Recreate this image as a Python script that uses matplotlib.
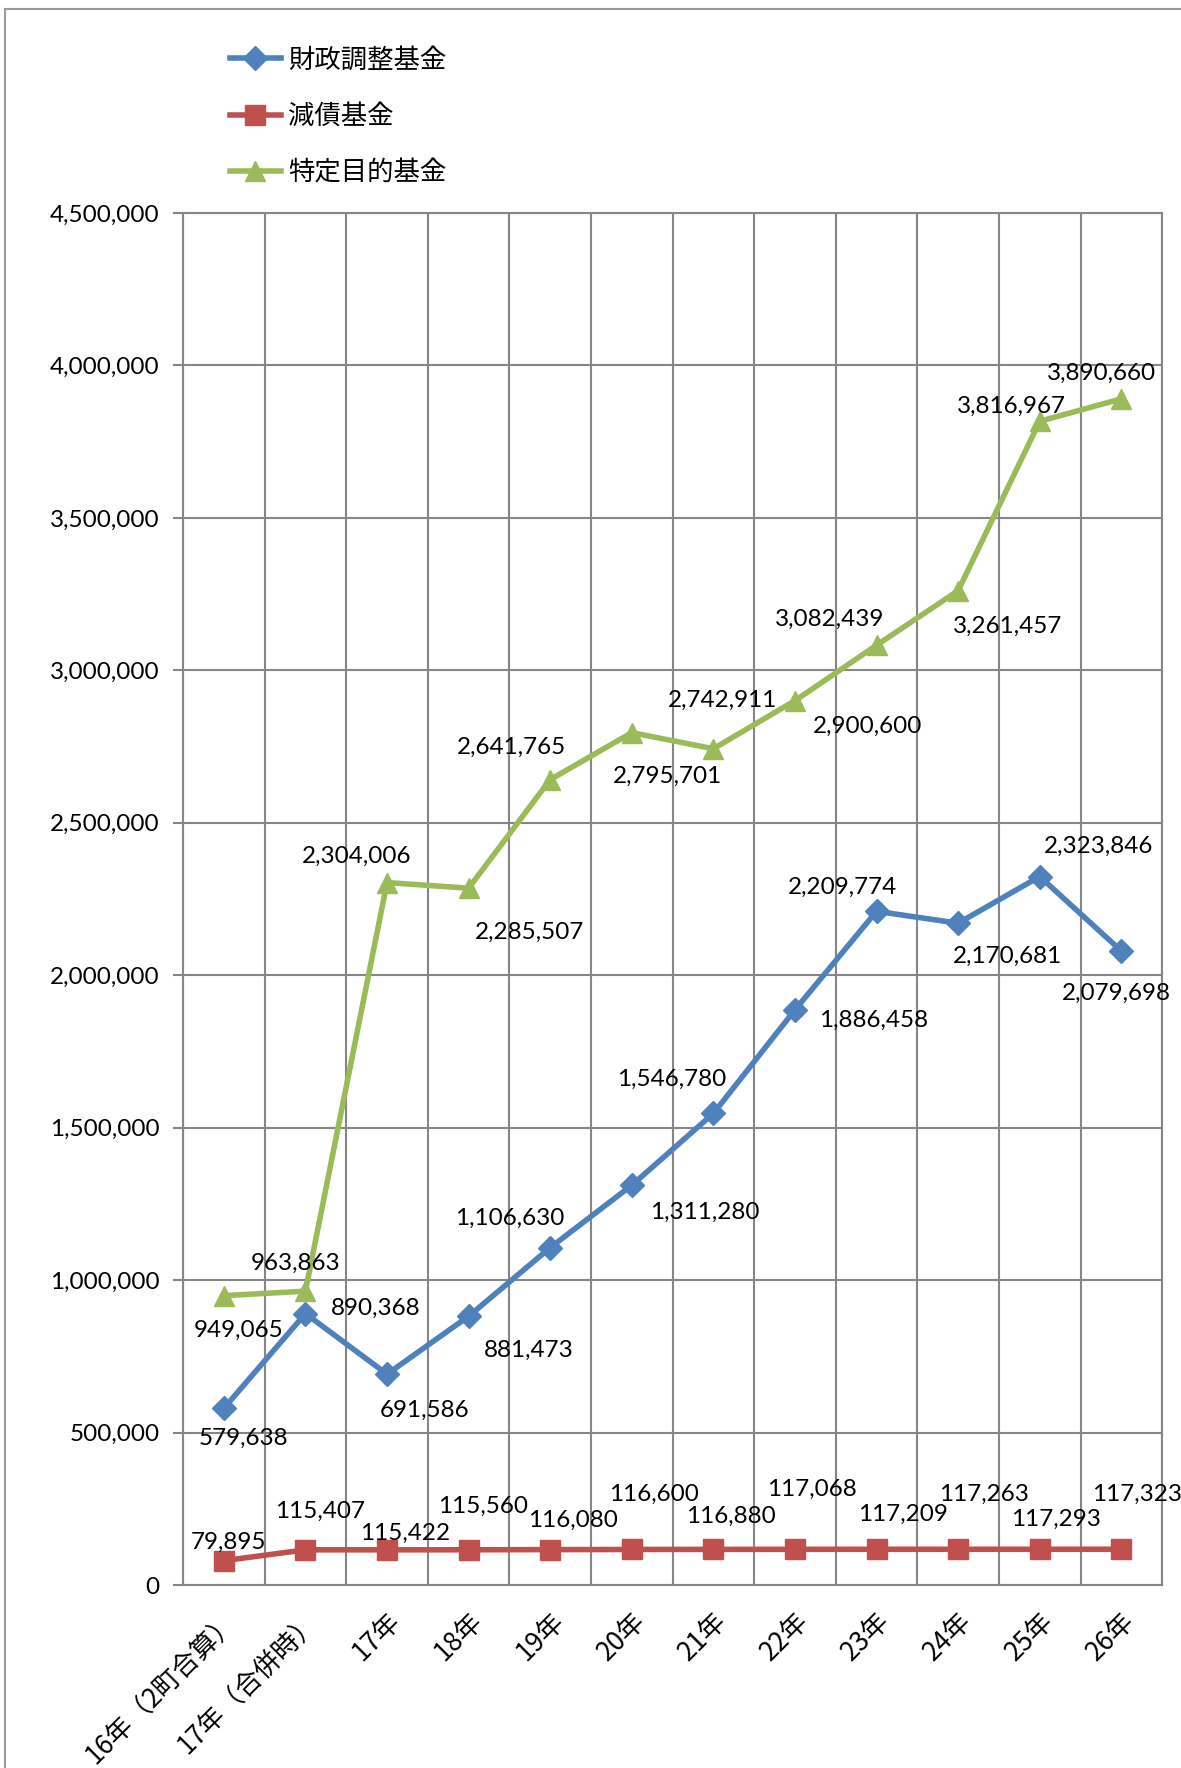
import numpy as np
import matplotlib.pyplot as plt
from matplotlib.lines import Line2D
from matplotlib.ticker import FuncFormatter, MultipleLocator

plt.rcParams['font.family'] = ['Noto Sans CJK JP', 'DejaVu Sans']

categories = ['16年（2町合算）', '17年（合併時）', '17年', '18年', '19年', '20年',
              '21年', '22年', '23年', '24年', '25年', '26年']
zaisei = [579638, 890368, 691586, 881473, 1106630, 1311280, 1546780,
          1886458, 2209774, 2170681, 2323846, 2079698]
gensai = [79895, 115407, 115422, 115560, 116080, 116600, 116880,
          117068, 117209, 117263, 117293, 117323]
tokutei = [949065, 963863, 2304006, 2285507, 2641765, 2795701, 2742911,
           2900600, 3082439, 3261457, 3816967, 3890660]

# label offsets (pixels, x right / y up)
off_zaisei = [(20, -30), (70, 5), (38, -36), (60, -34), (-40, 29), (73, -27),
              (-42, 34), (79, -10), (-34, 24), (49, -33), (59, 30), (-5, -42)]
off_gensai = [(5, 18), (15, 38), (18, 16), (14, 43), (23, 29), (22, 55),
              (18, 33), (17, 60), (26, 35), (26, 55), (16, 30), (16, 55)]
off_tokutei = [(15, -35), (-10, 28), (-30, 26), (61, -44), (-39, 32), (36, -44),
               (9, 48), (73, -26), (-47, 26), (49, -36), (-28, 15), (-20, 25)]

blue = '#4F81BD'
red = '#C0504D'
green = '#9BBB59'
gridc = '#868686'

fig = plt.figure(figsize=(11.81, 17.68), dpi=100)
ax = fig.add_axes([0.155, 0.1035, 0.829, 0.776])

x = np.arange(len(categories))
ax.plot(x, zaisei, color=blue, lw=4, marker='D', ms=12, label='財政調整基金', zorder=3)
ax.plot(x, gensai, color=red, lw=4, marker='s', ms=14, label='減債基金', zorder=3)
ax.plot(x, tokutei, color=green, lw=4, marker='^', ms=15, label='特定目的基金', zorder=3)

num_font = ['Lato', 'DejaVu Sans']
for vals, offs in [(zaisei, off_zaisei), (gensai, off_gensai), (tokutei, off_tokutei)]:
    for xi, v, (dx, dy) in zip(x, vals, offs):
        ax.annotate(f'{v:,}', (xi, v), xytext=(dx, dy), textcoords='offset pixels',
                    ha='center', va='center', fontsize=17.5, family=num_font,
                    color='black', zorder=4)

ax.set_xlim(-0.5, len(categories) - 0.5)
ax.set_ylim(0, 4500000)
ax.yaxis.set_major_locator(MultipleLocator(500000))
ax.yaxis.set_major_formatter(FuncFormatter(lambda v, p: f'{int(v):,}'))
for lab in ax.get_yticklabels():
    lab.set_family(num_font)
ax.tick_params(axis='y', labelsize=17.5, length=7, width=1.5, color=gridc, pad=10)

ax.set_xticks(x)
ax.set_xticklabels(categories, rotation=45, ha='right', va='top',
                   rotation_mode='anchor', fontsize=19)
ax.tick_params(axis='x', length=0, pad=16)
ax.set_xticks(np.arange(-0.5, len(categories)), minor=True)
ax.tick_params(axis='x', which='minor', length=0)

ax.grid(True, axis='y', which='major', color=gridc, lw=1.5)
ax.grid(True, axis='x', which='minor', color=gridc, lw=1.5)
ax.set_axisbelow(True)
for s in ax.spines.values():
    s.set_color(gridc)
    s.set_linewidth(1.5)

leg = fig.legend(loc='upper left', bbox_to_anchor=(0.175, 0.9872), frameon=False,
                 fontsize=19, labelspacing=1.12, handlelength=1.9, handletextpad=0.3)

fig.add_artist(Line2D([0.004, 0.004], [0, 0.995], color='#9a9a9a', lw=1.5))
fig.add_artist(Line2D([0.004, 1.0], [0.995, 0.995], color='#9a9a9a', lw=1.5))

fig.savefig('out.png', dpi=100)
